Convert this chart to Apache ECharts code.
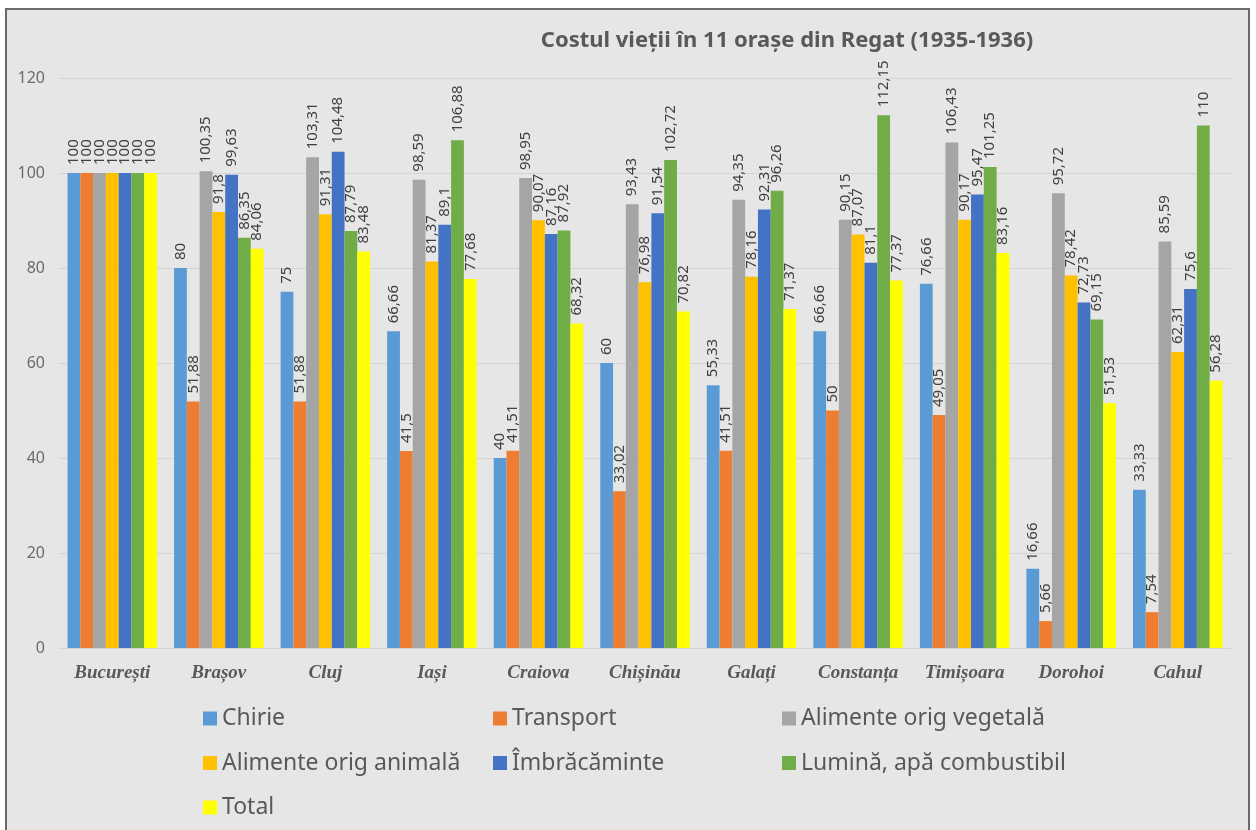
<!DOCTYPE html>
<html><head><meta charset="utf-8">
<script src="https://cdn.jsdelivr.net/npm/echarts/dist/echarts.min.js"></script>
<style>
html,body{margin:0;padding:0;background:#fff;width:1256px;height:830px;overflow:hidden;}
#frame{position:absolute;left:5px;top:8px;width:1241px;height:840px;border:2px solid #6a6a6a;background:#e6e6e6;}
#chart{position:absolute;left:0;top:0;width:1256px;height:830px;}
</style></head><body><div id="frame"></div><div id="chart"></div>
<script>
const titleText = 'Costul vieții în 11 orașe din Regat (1935-1936)';
const categories = ['București','Brașov','Cluj','Iași','Craiova','Chișinău','Galați','Constanța','Timișoara','Dorohoi','Cahul'];
const seriesNames = ['Chirie','Transport','Alimente orig vegetală','Alimente orig animală','Îmbrăcăminte','Lumină, apă combustibil','Total'];
const chirie = [100, 80, 75, 66.66, 40, 60, 55.33, 66.66, 76.66, 16.66, 33.33];
const transport = [100, 51.88, 51.88, 41.5, 41.51, 33.02, 41.51, 50, 49.05, 5.66, 7.54];
const alimVegetala = [100, 100.35, 103.31, 98.59, 98.95, 93.43, 94.35, 90.15, 106.43, 95.72, 85.59];
const alimAnimala = [100, 91.8, 91.31, 81.37, 90.07, 76.98, 78.16, 87.07, 90.17, 78.42, 62.31];
const imbracaminte = [100, 99.63, 104.48, 89.1, 87.16, 91.54, 92.31, 81.1, 95.47, 72.73, 75.6];
const lumina = [100, 86.35, 87.79, 106.88, 87.92, 102.72, 96.26, 112.15, 101.25, 69.15, 110];
const total = [100, 84.06, 83.48, 77.68, 68.32, 70.82, 71.37, 77.37, 83.16, 51.53, 56.28];
const yTicks = {min: 0, max: 120, interval: 20};

const colors = ['#5b9bd5','#ed7d31','#a5a5a5','#ffc000','#4472c4','#70ad47','#ffff00'];
const values = [chirie, transport, alimVegetala, alimAnimala, imbracaminte, lumina, total];

const chart = echarts.init(document.getElementById('chart'), null, {renderer: 'canvas'});
const legendText = {fontFamily: 'Noto Sans', fontSize: 23, color: '#595959', lineHeight: 22};
function legendCol(names, left) {
  return {orient: 'vertical', left: left, top: 707, padding: 0, itemGap: 21.5,
    itemWidth: 14, itemHeight: 14, icon: 'rect', data: names, textStyle: legendText, selectedMode: false};
}
const option = {
  animation: false,
  backgroundColor: 'transparent',
  color: colors,
  graphic: [{type: 'text', x: 787, y: 41,
    style: {text: titleText, textAlign: 'center', textVerticalAlign: 'middle',
      font: 'bold 22px "Noto Sans"', fill: '#595959'}}],
  grid: {left: 59, right: 25, top: 78, bottom: 182, containLabel: false},
  legend: [
    legendCol(['Chirie','Alimente orig animală','Total'], 203),
    legendCol(['Transport','Îmbrăcăminte'], 493),
    legendCol(['Alimente orig vegetală','Lumină, apă combustibil'], 782)
  ],
  xAxis: {type: 'category', data: categories,
    axisLine: {lineStyle: {color: '#d4d4d4'}}, axisTick: {show: false},
    axisLabel: {interval: 0, hideOverlap: false, fontFamily: 'Liberation Serif', fontStyle: 'italic', fontWeight: 'bold',
      fontSize: 19, color: '#595959', margin: 16}},
  yAxis: {type: 'value', min: yTicks.min, max: yTicks.max, interval: yTicks.interval,
    axisLine: {show: false}, axisTick: {show: false},
    splitLine: {lineStyle: {color: '#d4d4d4'}},
    axisLabel: {fontFamily: 'Noto Sans', fontSize: 16, color: '#6b6b6b', margin: 14}},
  series: seriesNames.map((n, i) => ({
    name: n, type: 'bar', data: values[i], barGap: '0%', barCategoryGap: '16%',
    itemStyle: {color: colors[i]},
    label: {show: true, position: 'top', rotate: 90, align: 'left', verticalAlign: 'middle',
      distance: 8, fontFamily: 'Noto Sans', fontSize: 15, color: '#404040',
      formatter: p => String(p.value).replace('.', ',')}
  }))
};
chart.setOption(option);
</script></body></html>
